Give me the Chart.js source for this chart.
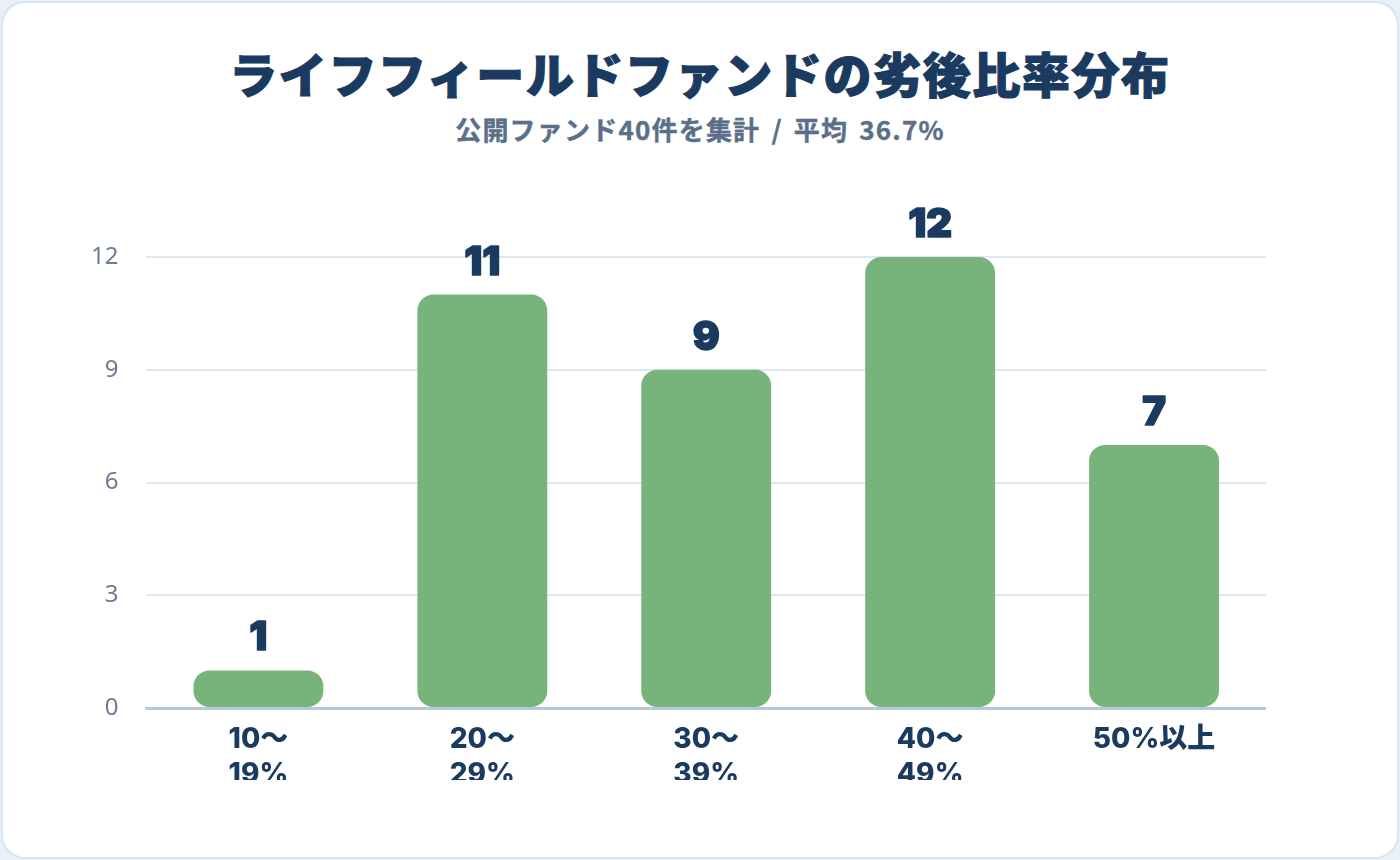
<!DOCTYPE html>
<html lang="ja">
<head>
<meta charset="utf-8">
<script src="https://cdn.jsdelivr.net/npm/chart.js@4"></script>
<style>
html,body{margin:0;padding:0;}
body{width:1400px;height:860px;background:#e8f0f8;overflow:hidden;font-family:"Noto Sans CJK JP",sans-serif;}
.card{position:absolute;left:1px;top:1px;width:1394px;height:854px;background:#fff;border:2px solid #d9e5f2;border-radius:24px;}
h1{position:absolute;left:0;width:1400px;top:40px;margin:0;text-align:center;font-size:48px;font-weight:900;color:#1b3a5f;line-height:64px;letter-spacing:1.6px;-webkit-text-stroke:1.2px #1b3a5f;}
.sub{position:absolute;left:0;width:1400px;top:112px;margin:0;text-align:center;font-size:26px;font-weight:700;color:#5a6f88;line-height:34px;letter-spacing:1.2px;word-spacing:4px;-webkit-text-stroke:0.4px #5a6f88;}
.clip{position:absolute;left:60px;top:200px;width:1206px;height:580px;overflow:hidden;}
.box{position:relative;width:1206px;height:598px;}
</style>
</head>
<body>
<div class="card"></div>
<h1>ライフフィールドファンドの劣後比率分布</h1>
<p class="sub">公開ファンド40件を集計 / 平均 36.7%</p>
<div class="clip"><div class="box"><canvas id="ratioChart"></canvas></div></div>
<script>
// 劣後比率の階級とファンド数
const ratioLabels = [["10〜","19%"],["20〜","29%"],["30〜","39%"],["40〜","49%"],"50%以上"];
const fundCounts = [1,11,9,12,7];
const yTicks = [0,3,6,9,12];

// bar value labels
const valueLabels = {
id:"valueLabels",
afterDatasetsDraw(chart){
const ctx = chart.ctx;
const meta = chart.getDatasetMeta(0);
ctx.save();
ctx.font = "900 40px Inter, Lato, 'Noto Sans CJK JP', sans-serif";
ctx.fillStyle = "#1b3a5f";
ctx.strokeStyle = "#1b3a5f";
ctx.lineWidth = 1.5;
ctx.lineJoin = "round";
ctx.textAlign = "center";
ctx.textBaseline = "bottom";
meta.data.forEach((bar,i)=>{
ctx.strokeText(String(fundCounts[i]), bar.x, bar.y - 12);
ctx.fillText(String(fundCounts[i]), bar.x, bar.y - 12);
});
ctx.restore();
}
};

new Chart(
document.getElementById("ratioChart"),
{
type:"bar",
data:{
labels:ratioLabels,
datasets:[{
label:"ファンド数",
data:fundCounts,
backgroundColor:"#76b47c",
borderRadius:16,
borderSkipped:false,
barPercentage:0.58,
categoryPercentage:1
}]
},
options:{
responsive:true,
maintainAspectRatio:false,
animation:false,
layout:{padding:{top:57,left:3,right:0,bottom:0}},
plugins:{legend:{display:false},tooltip:{enabled:false}},
scales:{
x:{
grid:{display:false},
border:{color:"#b8c8da",width:3},
ticks:{
color:"#1b3a5f",
padding:6,
maxRotation:0,
font:{family:"Inter, 'Noto Sans CJK JP', sans-serif",size:28,weight:"800",lineHeight:1.25}
}
},
y:{
min:0,
max:12,
afterBuildTicks(axis){axis.ticks = yTicks.map(v=>({value:v}));},
grid:{color:"#dde7f2",lineWidth:2,drawTicks:false},
border:{display:false},
ticks:{
color:"#6b7c93",
padding:28,
font:{family:"'Noto Sans', sans-serif",size:24}
}
}
}
},
plugins:[valueLabels]
}
);
</script>
</body>
</html>
